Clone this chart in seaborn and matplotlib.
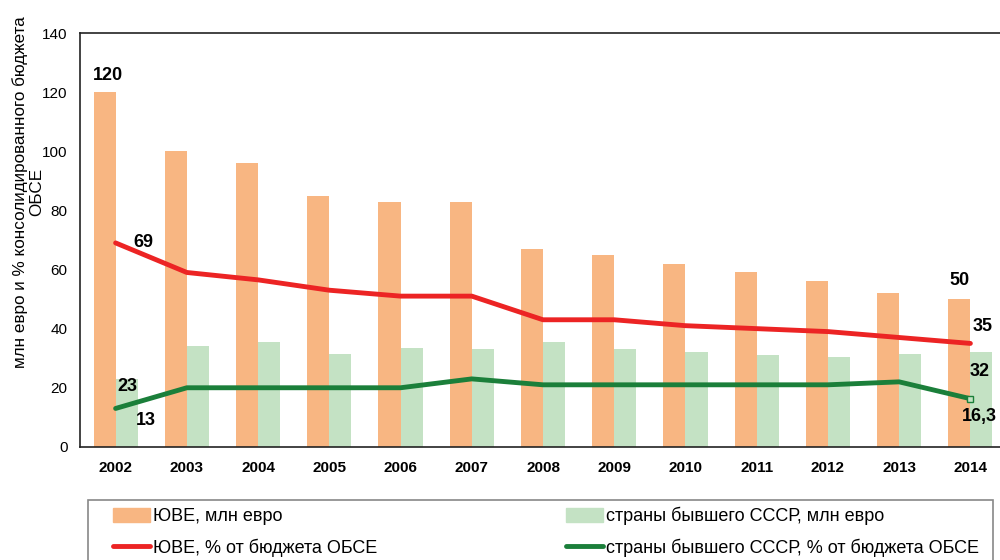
import matplotlib
matplotlib.use('Agg')
import matplotlib.pyplot as plt
import numpy as np
import pandas as pd
import seaborn as sns
from matplotlib.patches import Patch, Rectangle
from matplotlib.lines import Line2D

years = ['2002', '2003', '2004', '2005', '2006', '2007', '2008',
         '2009', '2010', '2011', '2012', '2013', '2014']
see_eur = [120, 100, 96, 85, 83, 83, 67, 65, 62, 59, 56, 52, 50]
cis_eur = [23, 34, 35.5, 31.5, 33.5, 33, 35.5, 33, 32, 31, 30.5, 31.5, 32]
see_pct = [69, 59, 56.5, 53, 51, 51, 43, 43, 41, 40, 39, 37, 35]
cis_pct = [13, 20, 20, 20, 20, 23, 21, 21, 21, 21, 21, 22, 16.3]

labels = ['ЮВЕ, млн евро', 'страны бывшего СССР, млн евро',
          'ЮВЕ, % от бюджета ОБСЕ', 'страны бывшего СССР, % от бюджета ОБСЕ']
ylabel = 'млн евро и % консолидированного бюджета\nОБСЕ'

c_orange = '#F8B682'
c_lgreen = '#C4E2C4'
c_red = '#EC2424'
c_green = '#1B7F3A'

sns.set_theme(style='white')
plt.rcParams['font.family'] = ['Liberation Sans', 'DejaVu Sans']
plt.rcParams['text.color'] = 'black'
plt.rcParams['xtick.color'] = 'black'
plt.rcParams['ytick.color'] = 'black'

df = pd.DataFrame({
    'year': years * 2,
    'value': see_eur + cis_eur,
    'series': [labels[0]] * len(years) + [labels[1]] * len(years),
})
pos = np.arange(len(years))

fig = plt.figure(figsize=(10, 5.6), dpi=100)
ax = fig.add_axes([0.08, 0.202, 0.926, 0.739])

sns.barplot(data=df, x='year', y='value', hue='series', order=years,
            palette=[c_orange, c_lgreen], width=0.62, gap=0, saturation=1,
            linewidth=0, legend=False, ax=ax)
sns.lineplot(x=pos, y=see_pct, color=c_red, lw=3.5, ax=ax)
sns.lineplot(x=pos, y=cis_pct, color=c_green, lw=3.5, ax=ax)
ax.plot(pos[-1], cis_pct[-1], marker='s', ms=4, mfc=c_lgreen, mec=c_green, mew=1)

ax.set_xlim(-0.5, len(years) - 0.5)
ax.set_ylim(0, 140)
ax.set_yticks(range(0, 141, 20))
ax.set_xlabel('')
ax.set_ylabel('')
for s in ['left', 'bottom', 'top']:
    ax.spines[s].set_color('#222222')
    ax.spines[s].set_linewidth(1.2)
ax.spines['right'].set_visible(False)

ax.tick_params(axis='x', which='major', length=0, pad=10, labelsize=11)
ax.set_xticks(pos - 0.5, minor=True)
ax.tick_params(axis='x', which='minor', length=5, width=1, color='#222222', direction='out')
ax.tick_params(axis='y', length=5, width=1, color='#222222', direction='out', labelsize=11, pad=4)
for t in ax.get_xticklabels():
    t.set_fontweight('bold')

bold = dict(fontsize=13, fontweight='bold', ha='center', va='center',
            textcoords='offset pixels', color='black')
fmt = lambda v: f'{v:g}'.replace('.', ',')
ax.annotate(fmt(see_eur[0]), (pos[0] - 0.155, see_eur[0]), xytext=(3, 17), **bold)
ax.annotate(fmt(see_pct[0]), (pos[0], see_pct[0]), xytext=(28, 0), **bold)
ax.annotate(fmt(cis_eur[0]), (pos[0] + 0.155, cis_eur[0]), xytext=(1, -8), **bold)
ax.annotate(fmt(cis_pct[0]), (pos[0], cis_pct[0]), xytext=(30, -12), **bold)
ax.annotate(fmt(see_eur[-1]), (pos[-1] - 0.155, see_eur[-1]), xytext=(0, 19), **bold)
ax.annotate(fmt(see_pct[-1]), (pos[-1], see_pct[-1]), xytext=(12, 17), **bold)
ax.annotate(fmt(cis_eur[-1]), (pos[-1] + 0.155, cis_eur[-1]), xytext=(-2, -19), **bold)
ax.annotate(fmt(cis_pct[-1]), (pos[-1], cis_pct[-1]), xytext=(9, -18), **bold)

fig.text(0.0285, 1 - 192 / 560, ylabel, rotation=90, ha='center', va='center',
         multialignment='center', fontsize=12.3, linespacing=1.1)

# legend frame drawn separately so its padding can differ from the entry spacing
fig.patches.append(Rectangle((0.088, -0.02), 0.905, 0.127, transform=fig.transFigure,
                             fill=False, edgecolor='#888888', linewidth=1.2, zorder=0))
handles = [Patch(color=c_orange), Line2D([], [], color=c_red, lw=3.5),
           Patch(color=c_lgreen), Line2D([], [], color=c_green, lw=3.5)]
order_labels = [labels[0], labels[2], labels[1], labels[3]]
leg = ax.legend(handles, order_labels, loc='upper left', ncol=2, mode='expand',
                bbox_to_anchor=(0.113, 1 - 507 / 560, 0.866, 0), bbox_transform=fig.transFigure,
                prop={'family': ['Liberation Sans Narrow', 'Liberation Sans'], 'size': 13},
                handlelength=2.05, handleheight=0.8, handletextpad=0.15,
                labelspacing=0.72, borderpad=0, frameon=False, borderaxespad=0)

fig.savefig('out.png', dpi=100)
